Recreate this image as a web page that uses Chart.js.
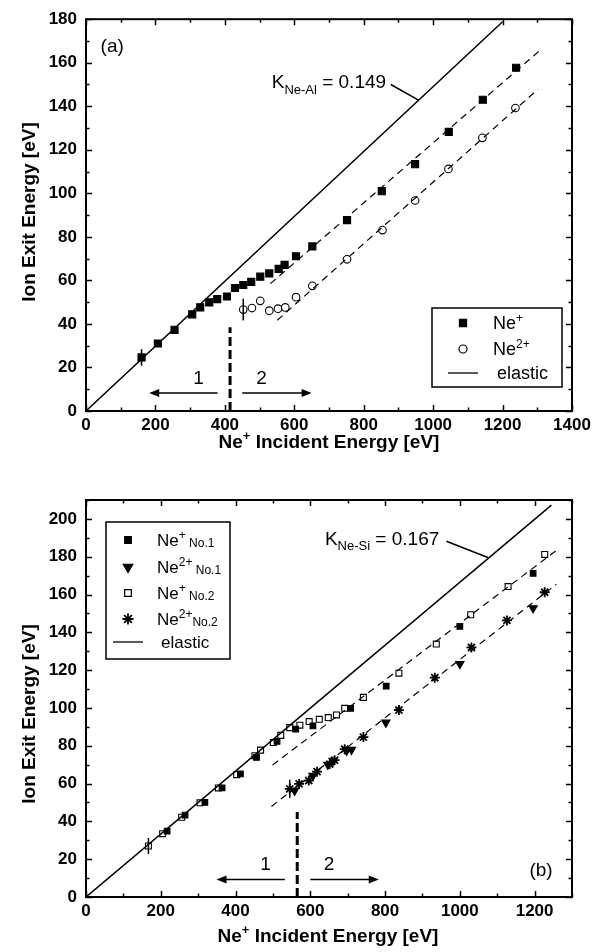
<!DOCTYPE html>
<html>
<head>
<meta charset="utf-8">
<script src="https://cdn.jsdelivr.net/npm/chart.js@4.4.1/dist/chart.umd.min.js"></script>
<style>
    body { margin: 0; background: #fff; width: 606px; height: 952px; position: relative; overflow: hidden; }
    canvas { position: absolute; left: 0; }
    #graph1 { top: 0; }
    #graph2 { top: 470px; }
</style>
</head>
<body>
<canvas id="graph1" width="606" height="470"></canvas>
<canvas id="graph2" width="606" height="482"></canvas>
<script>
// ---- panel (a) : Ne+ on Al ----
const aIonE  = [160, 207, 255, 306, 329, 355, 378, 406, 429, 453, 476, 502, 528, 555, 572, 605, 652, 752, 852, 948, 1045, 1143, 1239];
const aIonY  = [24.6, 31.0, 37.3, 44.4, 47.6, 49.9, 51.4, 52.6, 56.5, 57.9, 59.3, 61.7, 63.2, 65.3, 67.1, 71.1, 75.6, 87.7, 101, 113.4, 128.2, 143.0, 157.7];
const aDblE  = [453, 478, 502, 528, 553, 574, 605, 652, 752, 854, 948, 1044, 1142, 1237];
const aDblY  = [46.6, 47.3, 50.6, 46.1, 47.0, 47.6, 52.3, 57.5, 69.7, 83.1, 96.7, 111.2, 125.5, 139.2];
const aElastic = [[0, 0], [1200, 178.8]];
const aFitIon  = [[531, 58.5], [1310, 166]];
const aFitDbl  = [[551, 41.7], [1302, 147.8]];
const aErrBars = [[160, 24.6, 3.8], [453, 46.6, 5.0]];   // x, y, half height

// ---- panel (b) : Ne+ on Si ----
const bIon1E = [217, 265, 318, 364, 413, 456, 511, 561, 607, 708, 803, 1000, 1196];
const bIon1Y = [34.9, 43.3, 50.0, 57.7, 65.1, 73.8, 82.3, 88.8, 90.5, 99.8, 111.5, 143.2, 171.2];
const bIon2E = [167, 205, 256, 305, 354, 403, 452, 467, 501, 521, 545, 572, 597, 624, 648, 670, 692, 742, 837, 937, 1029, 1129, 1227];
const bIon2Y = [27.0, 33.5, 42.2, 49.8, 57.7, 64.7, 74.7, 77.7, 81.7, 85.5, 89.6, 90.9, 92.8, 94.0, 94.9, 96.3, 99.8, 105.6, 118.4, 133.8, 149.3, 164.2, 181.2];
const bDbl1E = [558, 607, 647, 661, 697, 710, 802, 1000, 1196];
const bDbl1Y = [56.3, 64.2, 70.0, 72.1, 77.4, 77.9, 92.3, 123.3, 152.8];
const bDbl2E = [545, 570, 596, 618, 652, 665, 692, 742, 837, 933, 1031, 1126, 1227];
const bDbl2Y = [57.2, 59.8, 61.6, 66.3, 70.3, 72.4, 78.2, 84.6, 98.9, 116.0, 132.0, 146.3, 161.2];
const bElastic = [[0, 0], [1245, 207.3]];
const bFitIon  = [[499, 69.8], [1256, 183]];
const bFitDbl  = [[496, 47.9], [1258, 165.4]];
const bErrBars = [[167, 27.0, 4.2], [545, 57.2, 4.8]];

const FONT = "'Liberation Sans', Arial, Helvetica, sans-serif";

function pts(xs, ys) {
    return xs.map((x, i) => ({x: x, y: ys[i]}));
}
function pairs(list) {
    return list.map(p => ({x: p[0], y: p[1]}));
}

// text with super/subscripts; parts = [[text, kind]], y = baseline
function drawRich(ctx, parts, x, y, size, bold, align) {
    const w0 = bold ? 'bold ' : '';
    const fontFor = k => w0 + Math.round(k ? size * (k === 'small' ? 0.72 : 0.68) : size) + 'px ' + FONT;
    let w = 0;
    parts.forEach(p => { ctx.font = fontFor(p[1]); w += ctx.measureText(p[0]).width; });
    let cx = align === 'center' ? x - w / 2 : (align === 'right' ? x - w : x);
    ctx.textAlign = 'left';
    ctx.textBaseline = 'alphabetic';
    ctx.fillStyle = '#000';
    parts.forEach(p => {
        ctx.font = fontFor(p[1]);
        let dy = 0;
        if (p[1] === 'sup') dy = -size * 0.4;
        if (p[1] === 'sub') dy = size * 0.28;
        if (p[1] === 'small') dy = 1;
        ctx.fillText(p[0], cx, y + dy);
        cx += ctx.measureText(p[0]).width;
    });
}

function seg(ctx, x1, y1, x2, y2) {
    ctx.beginPath(); ctx.moveTo(x1, y1); ctx.lineTo(x2, y2); ctx.stroke();
}

function arrow(ctx, x1, y, x2) {
    const dir = x2 > x1 ? 1 : -1;
    seg(ctx, x1, y, x2 - dir * 8, y);
    ctx.beginPath();
    ctx.moveTo(x2, y);
    ctx.lineTo(x2 - dir * 10, y - 4);
    ctx.lineTo(x2 - dir * 10, y + 4);
    ctx.closePath();
    ctx.fill();
}

// box with inward ticks on all four sides
const framePlugin = {
    id: 'frame',
    afterDatasetsDraw(chart, args, opts) {
        const {ctx, chartArea: a, scales: {x, y}} = chart;
        ctx.save();
        ctx.strokeStyle = '#000';
        ctx.lineWidth = 1.5;
        for (let v = x.min; v <= x.max; v += 100) {
            const len = v % 200 === 0 ? 6 : 3.5;
            const px = Math.round(x.getPixelForValue(v)) + 0.5;
            seg(ctx, px, a.bottom, px, a.bottom - len);
            seg(ctx, px, a.top, px, a.top + len);
        }
        for (let v = y.min; v <= y.max; v += 10) {
            const len = v % 20 === 0 ? 6 : 3.5;
            const py = Math.round(y.getPixelForValue(v)) + 0.5;
            seg(ctx, a.left, py, a.left + len, py);
            seg(ctx, a.right, py, a.right - len, py);
        }
        ctx.lineWidth = 2;
        ctx.strokeRect(a.left, a.top, a.right - a.left, a.bottom - a.top);
        ctx.restore();
    }
};

// legend symbol, drawn by hand
function symbol(ctx, r, sx, sy) {
    ctx.save();
    ctx.strokeStyle = '#000';
    ctx.fillStyle = r.fill ? '#000' : 'rgba(0,0,0,0)';
    ctx.lineWidth = r.sym === 'star' ? 1.8 : 1.2;
    Chart.helpers.drawPoint(ctx, {pointStyle: r.sym, radius: r.r, rotation: r.rot || 0, borderWidth: 1.2}, sx, sy);
    ctx.restore();
}

// annotations, error bars, legend, axis titles (config kept out of the options resolver)
function notesPlugin(o) {
    return {
        id: 'notes',
        afterDraw(chart) {
            const {ctx, scales: {x, y}} = chart;
            const X = v => x.getPixelForValue(v), Y = v => y.getPixelForValue(v);
            ctx.save();
            ctx.fillStyle = '#000';
            ctx.strokeStyle = '#000';

            // error bars
            ctx.lineWidth = 1.5;
            o.errBars.forEach(e => seg(ctx, X(e[0]), Y(e[1] - e[2]), X(e[0]), Y(e[1] + e[2])));

            // boundary between regime 1 and 2
            ctx.lineWidth = 3;
            ctx.setLineDash([9, 4]);
            seg(ctx, X(o.split[0]), Y(0), X(o.split[0]), Y(o.split[1]));
            ctx.setLineDash([]);

            // arrows and region labels
            ctx.lineWidth = 1.5;
            arrow(ctx, X(o.arrowL[0]), Y(o.arrowY), X(o.arrowL[1]));
            arrow(ctx, X(o.arrowR[0]), Y(o.arrowY), X(o.arrowR[1]));
            drawRich(ctx, [['1', '']], X(o.lab1[0]), Y(o.lab1[1]) + 7, 19, false, 'center');
            drawRich(ctx, [['2', '']], X(o.lab2[0]), Y(o.lab2[1]) + 7, 19, false, 'center');

            // K factor label with leader
            drawRich(ctx, o.kText, X(o.kPos[0]), Y(o.kPos[1]) + 6, 19, false, 'left');
            ctx.lineWidth = 1.5;
            seg(ctx, X(o.kLine[0][0]), Y(o.kLine[0][1]), X(o.kLine[1][0]), Y(o.kLine[1][1]));

            // panel tag
            drawRich(ctx, [[o.tag, '']], X(o.tagPos[0]), Y(o.tagPos[1]) + 7, 19, false, 'left');

            // legend
            const L = o.legend;
            ctx.lineWidth = 1.5;
            ctx.strokeRect(L.left, L.top, L.width, L.height);
            L.rows.forEach(r => {
                const sy = L.top + r.dy;
                const sx = L.left + L.symX;
                drawRich(ctx, r.text, L.left + L.txtX + (r.shift || 0), sy + 6, L.size, false, 'left');
                if (r.sym === 'line') {
                    ctx.lineWidth = 1.3;
                    seg(ctx, sx - 15, sy, sx + 15, sy);
                } else {
                    symbol(ctx, r, sx, sy);
                }
            });

            // axis titles
            drawRich(ctx, [['Ne', ''], ['+', 'sup'], [' Incident Energy [eV]', '']], o.xTitle[0], o.xTitle[1], 19, true, 'center');
            ctx.save();
            ctx.translate(o.yTitle[0], o.yTitle[1]);
            ctx.rotate(-Math.PI / 2);
            drawRich(ctx, [['Ion Exit Energy [eV]', '']], 0, 0, 19, true, 'center');
            ctx.restore();

            ctx.restore();
        }
    };
}

function lineSet(data, dashed, width) {
    return {
        type: 'scatter', data: pairs(data), showLine: true, pointRadius: 0,
        borderColor: '#000', borderWidth: width, borderDash: dashed ? [7, 5] : [], fill: false
    };
}
function markSet(data, style, r, filled, rot) {
    return {
        type: 'scatter', data: data, pointStyle: style, pointRadius: r, pointHoverRadius: r,
        pointRotation: rot || 0, borderColor: '#000', borderWidth: style === 'star' ? 1.8 : 1.1,
        backgroundColor: filled ? '#000' : 'rgba(0,0,0,0)'
    };
}

function axes(xMax, yMax, xAxisH) {
    const tickFont = {family: FONT, size: 17, weight: 'bold'};
    return {
        x: {
            type: 'linear', min: 0, max: xMax,
            grid: {display: false, drawTicks: false}, border: {display: false},
            ticks: {stepSize: 200, includeBounds: false, autoSkip: false, maxRotation: 0, padding: 4,
                    color: '#000', font: tickFont, callback: v => String(v)},
            afterFit: s => { s.height = xAxisH; }
        },
        y: {
            type: 'linear', min: 0, max: yMax,
            grid: {display: false, drawTicks: false}, border: {display: false},
            ticks: {stepSize: 20, includeBounds: false, padding: 9, color: '#000', font: tickFont,
                    callback: v => String(v)},
            afterFit: s => { s.width = 86; }
        }
    };
}

const notesA = {
    errBars: aErrBars,
    split: [415, 38.5],
    arrowY: 8.3, arrowL: [379, 182], arrowR: [450, 650],
    lab1: [324, 15.6], lab2: [506, 15.6],
    kText: [['K', ''], ['Ne-Al', 'sub'], [' = 0.149', '']],
    kPos: [535, 151], kLine: [[878, 150], [958, 142.8]],
    tag: '(a)', tagPos: [42, 168.2],
    xTitle: [329, 448], yTitle: [35, 212],
    legend: {
        left: 432, top: 308, width: 130, height: 79, symX: 31, txtX: 61, size: 18,
        rows: [
            {sym: 'rect', r: 5, fill: true, dy: 15, text: [['Ne', ''], ['+', 'sup']]},
            {sym: 'circle', r: 4, fill: false, dy: 41, text: [['Ne', ''], ['2+', 'sup']]},
            {sym: 'line', dy: 65, shift: 4, text: [['elastic', '']]}
        ]
    }
};

const notesB = {
    errBars: bErrBars,
    split: [565, 44.9],
    arrowY: 9.3, arrowL: [532, 349], arrowR: [600, 783],
    lab1: [480, 18], lab2: [650, 18],
    kText: [['K', ''], ['Ne-Si', 'sub'], [' = 0.167', '']],
    kPos: [639, 189.6], kLine: [[964, 188.2], [1075, 179.6]],
    tag: '(b)', tagPos: [1186, 14.7],
    xTitle: [328, 472], yTitle: [35, 244],
    legend: {
        left: 106, top: 52, width: 124, height: 137, symX: 22, txtX: 51, size: 17,
        rows: [
            {sym: 'rect', r: 4.7, fill: true, dy: 18, text: [['Ne', ''], ['+', 'sup'], [' No.1', 'small']]},
            {sym: 'triangle', r: 5.5, rot: 180, fill: true, dy: 45, text: [['Ne', ''], ['2+', 'sup'], [' No.1', 'small']]},
            {sym: 'rect', r: 4.7, fill: false, dy: 71, text: [['Ne', ''], ['+', 'sup'], [' No.2', 'small']]},
            {sym: 'star', r: 5.5, fill: false, dy: 97, text: [['Ne', ''], ['2+', 'sup'], ['No.2', 'small']]},
            {sym: 'line', dy: 120, shift: 4, text: [['elastic', '']]}
        ]
    }
};

const ctx = document.querySelector('#graph1').getContext('2d');
const ctx2 = document.querySelector('#graph2').getContext('2d');

const chartA = new Chart(ctx, {
    type: 'scatter',
    data: {
        datasets: [
            lineSet(aElastic, false, 1.5),
            lineSet(aFitIon, true, 1.2),
            lineSet(aFitDbl, true, 1.2),
            markSet(pts(aIonE, aIonY), 'rect', 5, true),
            markSet(pts(aDblE, aDblY), 'circle', 3.8, false)
        ]
    },
    plugins: [framePlugin, notesPlugin(notesA)],
    options: {
        responsive: false, animation: false, devicePixelRatio: 1,
        layout: {padding: {top: 14, right: 34, left: 0, bottom: 0}},
        scales: axes(1400, 180, 59),
        plugins: {legend: {display: false}, tooltip: {enabled: false}}
    }
});

const chartB = new Chart(ctx2, {
    type: 'scatter',
    data: {
        datasets: [
            lineSet(bElastic, false, 1.5),
            lineSet(bFitIon, true, 1.2),
            lineSet(bFitDbl, true, 1.2),
            markSet(pts(bIon1E, bIon1Y), 'rect', 4, true),
            markSet(pts(bDbl1E, bDbl1Y), 'triangle', 4.8, true, 180),
            markSet(pts(bIon2E, bIon2Y), 'rect', 4.2, false),
            markSet(pts(bDbl2E, bDbl2Y), 'star', 5, false)
        ]
    },
    plugins: [framePlugin, notesPlugin(notesB)],
    options: {
        responsive: false, animation: false, devicePixelRatio: 1,
        layout: {padding: {top: 30, right: 34, left: 0, bottom: 0}},
        scales: axes(1300, 210, 55),
        plugins: {legend: {display: false}, tooltip: {enabled: false}}
    }
});
</script>
</body>
</html>
